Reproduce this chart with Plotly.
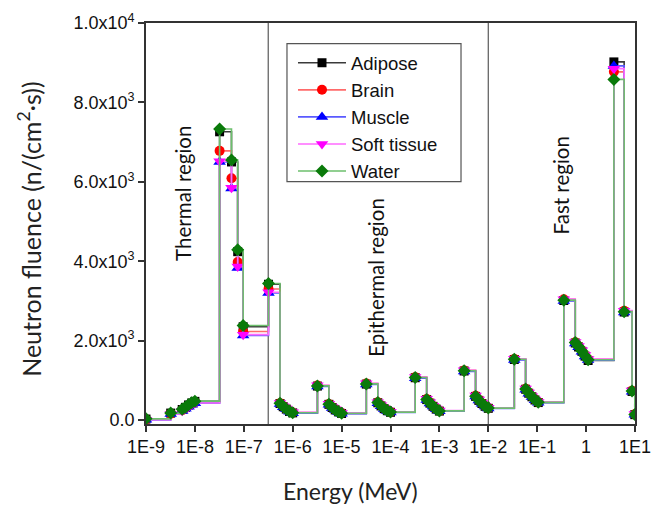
import plotly.graph_objects as go

# Energy grid (MeV)
energy_mev = [1.0e-9, 3.2e-9, 5.5e-9, 6.4e-9, 7.4e-9, 8.6e-9, 1.0e-8,
              3.2e-8, 5.6e-8, 7.5e-8, 9.7e-8,
              3.2e-7, 5.5e-7, 6.4e-7, 7.4e-7, 8.6e-7, 1.0e-6,
              3.2e-6, 5.5e-6, 6.4e-6, 7.4e-6, 8.6e-6, 1.0e-5,
              3.2e-5, 5.5e-5, 6.4e-5, 7.4e-5, 8.6e-5, 1.0e-4,
              3.2e-4, 5.5e-4, 6.4e-4, 7.4e-4, 8.6e-4, 1.0e-3,
              3.2e-3, 5.5e-3, 6.4e-3, 7.4e-3, 8.6e-3, 1.0e-2,
              3.4e-2, 5.8e-2, 6.7e-2, 7.8e-2, 9.0e-2, 1.05e-1,
              3.5e-1, 6.0e-1, 7.0e-1, 8.2e-1, 9.5e-1, 1.1,
              3.7, 6.0, 8.7, 9.9]

adipose = [25, 175, 265, 320, 380, 430, 470,
           7260, 6500, 4240, 2350,
           3420, 415, 335, 275, 215, 180,
           855, 395, 315, 255, 205, 165,
           905, 435, 355, 285, 235, 195,
           1065, 515, 425, 345, 275, 225,
           1235, 595, 495, 415, 345, 295,
           1525, 775, 675, 585, 505, 440,
           3010, 1940, 1840, 1730, 1610, 1500,
           9020, 2720, 720, 135]

brain = [15, 160, 245, 300, 355, 405, 445,
         6780, 6090, 3980, 2230,
         3300, 425, 345, 285, 225, 190,
         870, 405, 325, 265, 215, 175,
         920, 445, 365, 295, 245, 205,
         1080, 530, 440, 355, 285, 235,
         1250, 610, 510, 425, 355, 305,
         1540, 790, 690, 595, 515, 450,
         3040, 1960, 1860, 1750, 1630, 1530,
         8770, 2750, 740, 145]

muscle = [5, 150, 230, 285, 335, 385, 425,
          6500, 5830, 3830, 2130,
          3200, 405, 325, 270, 210, 170,
          845, 385, 305, 250, 200, 160,
          895, 425, 345, 280, 230, 190,
          1055, 505, 415, 340, 270, 220,
          1225, 590, 490, 410, 340, 290,
          1515, 765, 665, 580, 500, 435,
          3000, 1930, 1830, 1720, 1600, 1510,
          8920, 2710, 715, 130]

soft_tissue = [10, 155, 235, 290, 340, 390, 430,
               6520, 5850, 3870, 2150,
               3220, 430, 350, 290, 230, 195,
               875, 410, 330, 270, 220, 180,
               925, 450, 370, 300, 250, 210,
               1085, 535, 445, 360, 290, 240,
               1255, 615, 515, 430, 360, 310,
               1545, 795, 695, 600, 520, 455,
               3045, 1965, 1865, 1755, 1635, 1535,
               8850, 2755, 745, 150]

water = [30, 175, 270, 325, 385, 435, 475,
         7330, 6550, 4290, 2380,
         3440, 420, 340, 280, 220, 185,
         860, 400, 320, 260, 210, 170,
         910, 440, 360, 290, 240, 200,
         1070, 520, 430, 350, 280, 230,
         1240, 600, 500, 420, 350, 300,
         1530, 780, 680, 590, 510, 445,
         3020, 1950, 1850, 1740, 1620, 1520,
         8580, 2730, 730, 140]

series_names = ["Adipose", "Brain", "Muscle", "Soft tissue", "Water"]
series_values = [adipose, brain, muscle, soft_tissue, water]
line_colors = ["#3a3a3a", "#ff6a6a", "#5a5aff", "#ff6aff", "#6cbf6c"]
marker_colors = ["#000000", "#ff0000", "#0000ff", "#ff00ff", "#0a7a0a"]
marker_symbols = ["square", "circle", "triangle-up", "triangle-down", "diamond"]
marker_sizes = [9, 10, 11, 11, 10]

x_tick_vals = [1e-9, 1e-8, 1e-7, 1e-6, 1e-5, 1e-4, 1e-3, 1e-2, 1e-1, 1, 10]
x_tick_text = ["1E-9", "1E-8", "1E-7", "1E-6", "1E-5", "1E-4", "1E-3",
               "1E-2", "1E-1", "1", "1E1"]
y_tick_vals = [0, 2000, 4000, 6000, 8000, 10000]
y_tick_text = ["0.0", "2.0x10<sup>3</sup>", "4.0x10<sup>3</sup>",
               "6.0x10<sup>3</sup>", "8.0x10<sup>3</sup>", "1.0x10<sup>4</sup>"]

region_edges = [10 ** -6.5, 1e-2]
region_labels = ["Thermal region", "Epithermal region", "Fast region"]
region_label_x = [-8.24, -4.31, -0.52]   # log10(MeV)
region_label_y = [5700, 3590, 5900]

fig = go.Figure()
for name, vals, lc, mc, sym, ms in zip(series_names, series_values, line_colors,
                                       marker_colors, marker_symbols, marker_sizes):
    fig.add_trace(go.Scatter(
        x=energy_mev, y=vals, name=name, mode="lines+markers",
        line=dict(shape="hv", color=lc, width=1.6),
        marker=dict(symbol=sym, color=mc, size=ms, line=dict(width=0)),
    ))

for e in region_edges:
    fig.add_shape(type="line", xref="x", yref="paper", x0=e, x1=e, y0=0, y1=1,
                  line=dict(color="#666666", width=1.3), layer="below")

# legend frame
fig.add_shape(type="rect", xref="paper", yref="paper", x0=0.2883, x1=0.6442,
              y0=0.6043, y1=0.9487, line=dict(color="#555", width=1.2),
              fillcolor="rgba(0,0,0,0)", layer="above")

for txt, lx, ly in zip(region_labels, region_label_x, region_label_y):
    fig.add_annotation(x=lx, y=ly, xref="x", yref="y", text=txt, textangle=-90,
                       showarrow=False, font=dict(family="Lato", size=20.5, color="#111"))

fig.add_annotation(xref="paper", yref="paper", x=0.418, y=-0.168, text="Energy (MeV)",
                   showarrow=False, font=dict(family="Lato", size=23, color="#222"),
                   xanchor="center", yanchor="middle")
fig.add_annotation(xref="paper", yref="paper", x=-0.237, y=0.487,
                   text="Neutron fluence (n/(cm<sup>2</sup>·s))", textangle=-90,
                   showarrow=False, font=dict(family="Lato", size=25, color="#222"),
                   xanchor="center", yanchor="middle")

axis_common = dict(showline=True, linewidth=1.6, linecolor="#333", mirror=True,
                   ticks="outside", ticklen=6, tickwidth=1.5, tickcolor="#333",
                   showgrid=False, zeroline=False, automargin=False,
                   tickfont=dict(family="Liberation Sans", size=18, color="#111"))

fig.update_layout(
    width=653, height=508, autosize=False,
    margin=dict(l=146, r=18, t=23, b=84),
    paper_bgcolor="white", plot_bgcolor="white",
    xaxis=dict(type="log", range=[-9, 1], tickvals=x_tick_vals, ticktext=x_tick_text,
               **axis_common),
    yaxis=dict(range=[-100, 10000], tickvals=y_tick_vals, ticktext=y_tick_text,
               **axis_common),
    legend=dict(x=0.3006, y=0.947, xanchor="left", yanchor="top",
                borderwidth=0, bgcolor="rgba(0,0,0,0)",
                font=dict(family="Liberation Sans", size=18.5, color="#111"),
                itemwidth=48, tracegroupgap=0),
    showlegend=True,
)

fig.write_html("out.html")
